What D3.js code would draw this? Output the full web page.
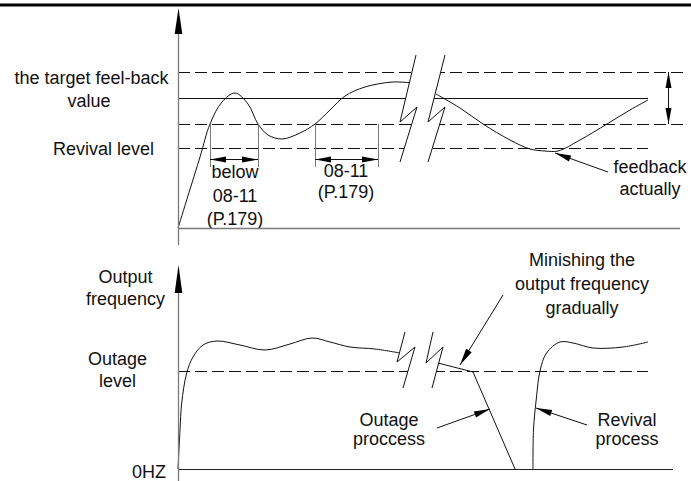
<!DOCTYPE html>
<html>
<head>
<meta charset="utf-8">
<script src="https://cdn.jsdelivr.net/npm/d3@7"></script>
<style>
  body { margin: 0; background: #fff; }
  text { font-family: "Liberation Sans", Arial, sans-serif; font-size: 18px; fill: #111; }
</style>
</head>
<body>
<div id="chart"></div>
<script>
// ---- data (time units along x, level units along y) ----
// top panel: feedback levels
const topLevels = { upper: 156, target: 130, lower: 104, revival: 80 };
const feedbackBefore = [[0,0],[22,71],[32,104],[44,126],[57,135],[70,124],[80,104],[90,93],[104,89],
                        [122,95],[137,104],[152,118],[167,132],[187,141],[215,146],[234,145]];
const feedbackAfter = [[258,134],[282,120],[305,104],[332,88],[352,79],[367,77],[380,77],[402,88],
                       [429,104],[452,118],[470,128]];
const delayIntervals = [[32, 80], [137, 200]];
const intervalLabels = [["below", "08-11", "(P.179)"], ["08-11", "(P.179)"]];

// bottom panel: output frequency
const outageLevel = 98;
const freqBefore = [[0,0],[2,39],[3.7,66],[8.7,96],[15,112],[25,124],[39,128],[62,124],[87,119],
                    [112,125],[134,131],[152,127],[172,122],[197,120],[222,116]];
const freqOutage = [[260,106],[295,97],[337,0]];
const freqRevival = [[355,0],[355.5,39],[358.5,72],[362,98],[368.5,116],[382,127],[395,126],
                     [415,121],[445,122],[470,127]];

// break marks (zig-zag) for both panels
const topBreaks = [[[238,173],[222,106],[239,121],[222,66]], [[267,173],[250,106],[267,121],[250,66]]];
const botBreaks = [[[227,137],[219,107],[237,122],[225,81]], [[255,137],[248,106],[265,122],[254,81]]];

/**** setup ****/
const width = 691, height = 481;
const svg = d3.select("#chart").append("svg")
    .attr("width", width).attr("height", height);

const x = d3.scaleLinear().domain([0, 502]).range([178, 680]);
const yTop = d3.scaleLinear().domain([0, 220]).range([228, 8]);
const yBot = d3.scaleLinear().domain([0, 204]).range([469, 265]);

const AXIS = "#7a7a7a";
const DASH = "12,5";
const px = v => Math.round(v) + 0.5;   // keep 1px lines crisp

// header rule
svg.append("line").attr("x1", 0).attr("x2", width).attr("y1", 5).attr("y2", 5)
    .attr("stroke", "#000").attr("stroke-width", 3);

function hline(y, x0, x1, dashed, color) {
    svg.append("line")
        .attr("x1", x(x0)).attr("x2", x(x1)).attr("y1", px(y)).attr("y2", px(y))
        .attr("stroke", color || "#111").attr("stroke-width", 1)
        .attr("stroke-dasharray", dashed ? DASH : null);
}

function vline(xv, y0, y1, color, w) {
    svg.append("line")
        .attr("x1", px(xv)).attr("x2", px(xv)).attr("y1", y0).attr("y2", y1)
        .attr("stroke", color || "#111").attr("stroke-width", w || 1);
}

function curve(pts, ys, c) {
    const line = d3.line().x(d => x(d[0])).y(d => ys(d[1])).curve(c || d3.curveCatmullRom.alpha(0.5));
    svg.append("path").attr("d", line(pts))
        .attr("fill", "none").attr("stroke", "#111").attr("stroke-width", 1);
}

function head(x1, y1, x2, y2, len, hw) {
    const dx = x2 - x1, dy = y2 - y1, L = Math.hypot(dx, dy);
    const ux = dx / L, uy = dy / L;
    const bx = x2 - ux * len, by = y2 - uy * len;
    svg.append("path")
        .attr("d", `M${x2},${y2}L${bx - uy * hw},${by + ux * hw}L${bx + uy * hw},${by - ux * hw}Z`)
        .attr("fill", "#000");
}

function arrow(x1, y1, x2, y2, len, hw, color) {
    svg.append("line").attr("x1", x1).attr("y1", y1).attr("x2", x2).attr("y2", y2)
        .attr("stroke", color || "#111").attr("stroke-width", 1);
    head(x1, y1, x2, y2, len || 16, hw || 3);
}

function breakMarks(br, ys) {
    const pts = br[0].concat(br[1].slice().reverse()).map(d => [x(d[0]), ys(d[1])]);
    svg.append("path").attr("d", "M" + pts.join("L") + "Z")
        .attr("fill", "#fff").attr("fill-rule", "evenodd");
    br.forEach(b => {
        svg.append("path").attr("d", d3.line().x(d => x(d[0])).y(d => ys(d[1]))(b))
            .attr("fill", "none").attr("stroke", "#111").attr("stroke-width", 1);
    });
}

function label(lines, cx, y0, step, anchor) {
    lines.forEach((t, i) => {
        svg.append("text").attr("x", cx).attr("y", y0 + i * step)
            .attr("text-anchor", anchor || "middle").text(t);
    });
}

/**** TOP PANEL ****/
hline(yTop(topLevels.upper), 0, 505, true);
hline(yTop(topLevels.target), 0, 470, false);
hline(yTop(topLevels.lower), 0, 505, true);
hline(yTop(topLevels.revival), 0, 470, true);

curve(feedbackBefore, yTop);
curve(feedbackAfter, yTop);
breakMarks(topBreaks, yTop);

// delay interval markers
delayIntervals.forEach((iv, k) => {
    iv.forEach(v => vline(x(v), yTop(topLevels.lower), yTop(61), AXIS));
    const ya = px(yTop(69));
    svg.append("line").attr("x1", x(iv[0])).attr("x2", x(iv[1])).attr("y1", ya).attr("y2", ya)
        .attr("stroke", "#111");
    head(x(iv[1]), ya, x(iv[0]), ya, 16, 3);
    head(x(iv[0]), ya, x(iv[1]), ya, 16, 3);
    const cx = (x(iv[0]) + x(iv[1])) / 2;
    if (k === 0) label(intervalLabels[k], cx + 1, 178, 23.5);
    else label(intervalLabels[k], cx - 0.5, 176.5, 21.5);
});

// band double arrow
const xb = px(x(490));
svg.append("line").attr("x1", xb).attr("x2", xb)
    .attr("y1", yTop(topLevels.upper)).attr("y2", yTop(topLevels.lower)).attr("stroke", "#111");
head(xb, yTop(topLevels.lower), xb, yTop(topLevels.upper), 16, 3);
head(xb, yTop(topLevels.upper), xb, yTop(topLevels.lower), 16, 3);

// feedback annotation
arrow(x(430), yTop(56), x(377), yTop(75), 16, 3.2);
label(["feedback", "actually"], 650, 172.5, 22);

// axes
svg.append("line").attr("x1", x(0)).attr("x2", x(502)).attr("y1", px(yTop(0))).attr("y2", px(yTop(0)))
    .attr("stroke", AXIS).attr("stroke-width", 1.3);
vline(x(0), yTop(200), 245, AXIS, 1.3);
head(px(x(0)), 40, px(x(0)), yTop(220), 26, 3.8);

label(["the target feel-back"], 91.5, 83.5, 0);
label(["value"], 89, 106.5, 0);
label(["Revival level"], 103.5, 155, 0);

/**** BOTTOM PANEL ****/
hline(yBot(outageLevel), 0, 470, true);

curve(freqBefore, yBot);
curve(freqOutage, yBot, d3.curveLinear);
curve(freqRevival, yBot);
breakMarks(botBreaks, yBot);

hline(yBot(0), 0, 495, false, "#222");
vline(x(0), yBot(190), 481, AXIS, 1.3);
head(px(x(0)), 300, px(x(0)), yBot(204), 28, 3.8);

// annotations
arrow(x(325), yBot(174), x(282), yBot(104), 17, 3.3);
arrow(x(259), yBot(41), x(312), yBot(60), 16, 3.2);
arrow(x(409), yBot(44), x(358), yBot(61), 16, 3.2);

label(["Minishing the", "output frequency", "gradually"], 582, 266.3, 24);
label(["Outage", "proccess"], 389, 425.7, 19.5);
label(["Revival", "process"], 627, 425.7, 19.5);

label(["Output", "frequency"], 125.5, 283.3, 22);
label(["Outage", "level"], 117.5, 364.7, 21.8);
label(["0HZ"], 166, 478, 0, "end");
</script>
</body>
</html>
